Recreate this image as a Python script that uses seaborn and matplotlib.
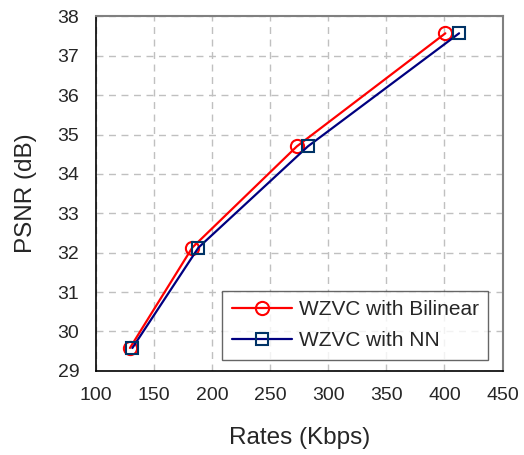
# PSNR vs rate for WZVC variants
import pandas as pd
import matplotlib
matplotlib.use("Agg")
import matplotlib.pyplot as plt
import seaborn as sns

# Data
rates_bilinear = [129.3, 183.0, 273.0, 400.8]
psnr_bilinear = [29.58, 32.13, 34.70, 37.57]
rates_nn = [131.4, 188.3, 282.5, 412.6]
psnr_nn = [29.58, 32.13, 34.70, 37.57]

sns.set_style("white")
plt.rcParams['font.family'] = ['Liberation Sans', 'DejaVu Sans']

fig = plt.figure(figsize=(5.24, 4.55), dpi=100)
ax = fig.add_axes([0.183, 0.185, 0.776, 0.779])

sns.lineplot(x=rates_bilinear, y=psnr_bilinear, color="#ff0000", marker="o",
             markersize=9.5, markerfacecolor="none", markeredgecolor="#ff0000",
             markeredgewidth=1.5, linewidth=1.6, sort=False, ax=ax,
             label="WZVC with Bilinear")
sns.lineplot(x=rates_nn, y=psnr_nn, color="#000080", marker="s",
             markersize=8.5, markerfacecolor="none", markeredgecolor="#003366",
             markeredgewidth=1.5, linewidth=1.6, sort=False, ax=ax,
             label="WZVC with NN")

ax.set_xlim(100, 450)
ax.set_ylim(29, 38)
ax.set_xticks(range(100, 451, 50))
ax.set_yticks(range(29, 39))
ax.grid(True, linestyle=(0, (5, 4)), color="#c0c0c0", linewidth=1)

for s in ["left", "bottom"]:
    ax.spines[s].set_color("#000000")
    ax.spines[s].set_linewidth(1.2)
for s in ["top", "right"]:
    ax.spines[s].set_color("#808080")
    ax.spines[s].set_linewidth(1.5)

ax.tick_params(axis="both", direction="out", length=7, width=1, labelsize=14,
               color="black")
ax.tick_params(axis="y", pad=5)
ax.tick_params(axis="x", pad=5)
ax.set_xlabel("Rates (Kbps)", fontsize=17.5, labelpad=16)
ax.set_ylabel("PSNR (dB)", fontsize=17.5, labelpad=15)

leg = ax.legend(loc="lower right", fontsize=15, frameon=True, fancybox=False,
                edgecolor="#404040", borderpad=0.45, handlelength=2.9,
                handletextpad=0.3, labelspacing=0.6, borderaxespad=0,
                bbox_to_anchor=(0.964, 0.031))
leg.get_frame().set_linewidth(1.0)

fig.savefig("out.png", dpi=100)
